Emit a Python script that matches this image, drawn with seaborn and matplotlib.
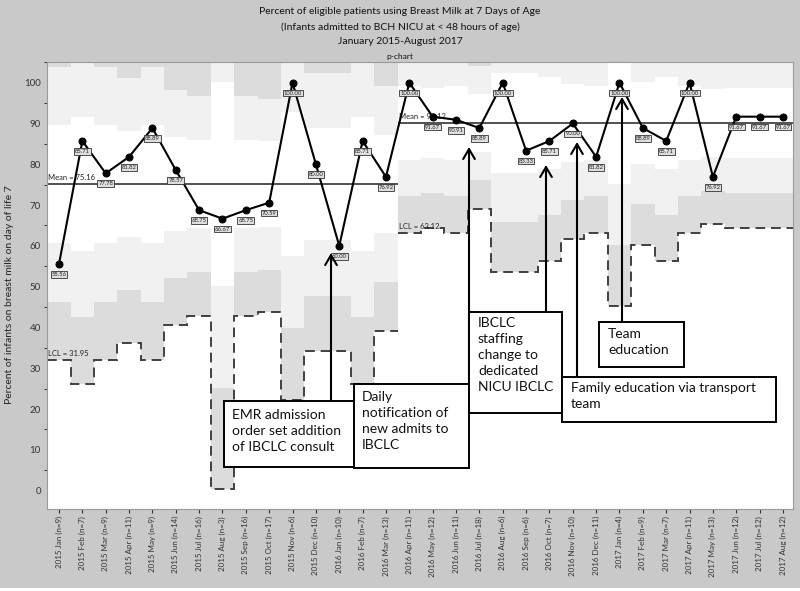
import numpy as np
import pandas as pd
import matplotlib
matplotlib.use('Agg')
import matplotlib.pyplot as plt
from matplotlib.patches import Rectangle, FancyArrowPatch
from matplotlib.ticker import MultipleLocator
import seaborn as sns

# ---------------- data ----------------
months = ['2015 Jan', '2015 Feb', '2015 Mar', '2015 Apr', '2015 May', '2015 Jun', '2015 Jul', '2015 Aug',
          '2015 Sep', '2015 Oct', '2015 Nov', '2015 Dec', '2016 Jan', '2016 Feb', '2016 Mar', '2016 Apr',
          '2016 May', '2016 Jun', '2016 Jul', '2016 Aug', '2016 Sep', '2016 Oct', '2016 Nov', '2016 Dec',
          '2017 Jan', '2017 Feb', '2017 Mar', '2017 Apr', '2017 May', '2017 Jun', '2017 Jul', '2017 Aug']
n_patients = [9, 7, 9, 11, 9, 14, 16, 3, 16, 17, 6, 10, 10, 7, 13,
              11, 12, 11, 18, 6, 6, 7, 10, 11, 4, 9, 7, 11, 13, 12, 12, 12]
pct_breast_milk = [55.56, 85.71, 77.78, 81.82, 88.89, 78.57, 68.75, 66.67, 68.75, 70.59, 100.00, 80.00,
                   60.00, 85.71, 76.92, 100.00, 91.67, 90.91, 88.89, 100.00, 83.33, 85.71, 90.00, 81.82,
                   100.00, 88.89, 85.71, 100.00, 76.92, 91.67, 91.67, 91.67]
lcl = [31.95, 26.17, 31.95, 36.08, 31.95, 40.52, 42.75, 0.32, 42.75, 43.72, 22.24, 34.17, 34.17, 26.17, 39.21,
       63.12, 64.27, 63.12, 69.01, 53.56, 53.56, 56.28, 61.80, 63.12, 45.35, 60.27, 56.28, 63.12, 65.28,
       64.27, 64.27, 64.27]
phase = [1] * 15 + [2] * 17
phase_means = [75.16, 90.12]

annotations = [
    "EMR admission\norder set addition\nof IBCLC consult",
    "Daily\nnotification of\nnew admits to\nIBCLC",
    "IBCLC\nstaffing\nchange to\ndedicated\nNICU IBCLC",
    "Family education via transport\nteam",
    "Team\neducation",
]

title_lines = ["Percent of eligible patients using Breast Milk at 7 Days of Age",
               "(Infants admitted to BCH NICU at < 48 hours of age)",
               "January 2015-August 2017"]

# ---------------- figure ----------------
sns.set_style('white')
plt.rcParams['font.family'] = ['Lato', 'DejaVu Sans']

W, H = 800, 591
fig = plt.figure(figsize=(W / 100, H / 100), dpi=100)
fig.patch.set_facecolor('#c9c9c9')
ax = fig.add_axes([47 / W, 1 - 509 / H, 746 / W, 447 / H])
ax.set_facecolor('white')

df = pd.DataFrame({'idx': np.arange(len(months)), 'month': months, 'n': n_patients,
                   'pct': pct_breast_milk, 'lcl': lcl, 'phase': phase})
df['mean'] = [phase_means[p - 1] for p in df['phase']]
df['sigma'] = (df['mean'] - df['lcl']) / 3.0

dark = '#dcdcdc'
light = '#f1f1f1'
# sigma zones
ax.bar(df['idx'], df['sigma'], bottom=df['lcl'], width=1.0, color=dark, linewidth=0, zorder=0)
ax.bar(df['idx'], df['sigma'], bottom=df['mean'] - 2 * df['sigma'], width=1.0, color=light, linewidth=0, zorder=0)
ax.bar(df['idx'], df['sigma'], bottom=df['mean'] + df['sigma'], width=1.0, color=light, linewidth=0, zorder=0)
ax.bar(df['idx'], df['sigma'], bottom=df['mean'] + 2 * df['sigma'], width=1.0, color=dark, linewidth=0, zorder=0)

# LCL stairs and mean lines per phase
for k, m in enumerate(phase_means, start=1):
    sub = df[df['phase'] == k]
    i0, i1 = sub['idx'].min(), sub['idx'].max()
    ax.stairs(sub['lcl'].values, np.arange(i0 - 0.5, i1 + 1.0, 1.0), baseline=None,
              color='#404040', lw=1.4, linestyle=(0, (5, 3)), zorder=2)
    ax.hlines(m, i0 - 0.5, i1 + 0.5, color='#333333', lw=1.2, zorder=2)
    ax.text(i0 - 0.45, m + 0.8, f'Mean = {m:.2f}', fontsize=5.5, color='#222222', va='bottom', ha='left', zorder=3)
    ax.text(i0 - 0.45, sub['lcl'].values[0] + 0.8, f'LCL = {sub["lcl"].values[0]:.2f}', fontsize=5.5,
            color='#222222', va='bottom', ha='left', zorder=3)

# data series
sns.lineplot(data=df, x='idx', y='pct', ax=ax, color='black', lw=1.5, marker='o', markersize=5,
             markeredgecolor='black', zorder=4)
for i, v in zip(df['idx'], df['pct']):
    ax.annotate(f'{v:.2f}', (i, v), xytext=(0, -7.5), textcoords='offset points', ha='center', va='center',
                fontsize=4.2, color='#222222', zorder=5,
                bbox=dict(boxstyle='square,pad=0.15', fc='#dedede', ec='#333333', lw=0.6))

ax.set_xlim(-0.514, 31.43)
ax.set_ylim(-4.49, 105.07)
ax.set_xticks(df['idx'])
ax.set_xticklabels([f'{m} (n={n})' for m, n in zip(months, n_patients)], rotation=90, fontsize=5.8,
                   color='#222222')
ax.yaxis.set_major_locator(MultipleLocator(10))
ax.yaxis.set_minor_locator(MultipleLocator(5))
ax.tick_params(axis='y', which='major', length=3, width=0.8, labelsize=7, colors='#333333', pad=1.5)
ax.tick_params(axis='y', which='minor', length=2, width=0.7, colors='#333333', left=True)
ax.tick_params(axis='x', which='major', length=3, width=0.8, colors='#333333', pad=2, bottom=True)
ax.set_xlabel('')
ax.set_ylabel('Percent of infants on breast milk on day of life 7', fontsize=7.5, color='#222222')
ax.yaxis.set_label_coords(-0.044, 0.479)
for s in ax.spines.values():
    s.set_color('#9a9a9a')
    s.set_linewidth(0.8)

# title
for k, line in enumerate(title_lines):
    fig.text(0.5, 1 - (12 + 15 * k) / H, line, ha='center', va='center', fontsize=7.5, color='#111111')
fig.text(0.5, 1 - 57 / H, 'p-chart', ha='center', va='center', fontsize=6, color='#111111')


def fx(x):
    return x / W


def fy(y):
    return 1 - y / H


# arrows (pixel positions): x, y_start, y_tip
arrow_specs = [(331, 401, 253), (469, 384, 147), (546, 312, 165), (577, 377, 142), (622, 322, 97)]
for x, y0, y1 in arrow_specs:
    fig.add_artist(FancyArrowPatch((fx(x), fy(y0)), (fx(x), fy(y1)), transform=fig.transFigure,
                                   arrowstyle='->,head_length=0.6,head_width=0.35', mutation_scale=12,
                                   color='black', lw=1.5, shrinkA=0, shrinkB=0, zorder=6))

# boxes: x0, y0, x1, y1, text x, text top y
box_specs = [(224, 401, 354, 467, 232, 409),
             (354, 384, 469, 468, 362, 391),
             (469, 312, 562, 413, 478, 317),
             (562, 377, 776, 422, 571, 382),
             (599, 322, 684, 367, 608, 328)]
for (x0, y0, x1, y1, tx, ty), txt in zip(box_specs, annotations):
    fig.add_artist(Rectangle((fx(x0), fy(y1)), (x1 - x0) / W, (y1 - y0) / H, transform=fig.transFigure,
                             fc='white', ec='black', lw=1.4, zorder=7))
    fig.text(fx(tx), fy(ty), txt, ha='left', va='top', fontsize=10, linespacing=1.4, color='#111111',
             zorder=8)

fig.add_artist(Rectangle((0, 0), 1, 3 / H, transform=fig.transFigure, fc='white', ec='none', zorder=0))

fig.savefig('out.png', dpi=100, facecolor=fig.get_facecolor())
